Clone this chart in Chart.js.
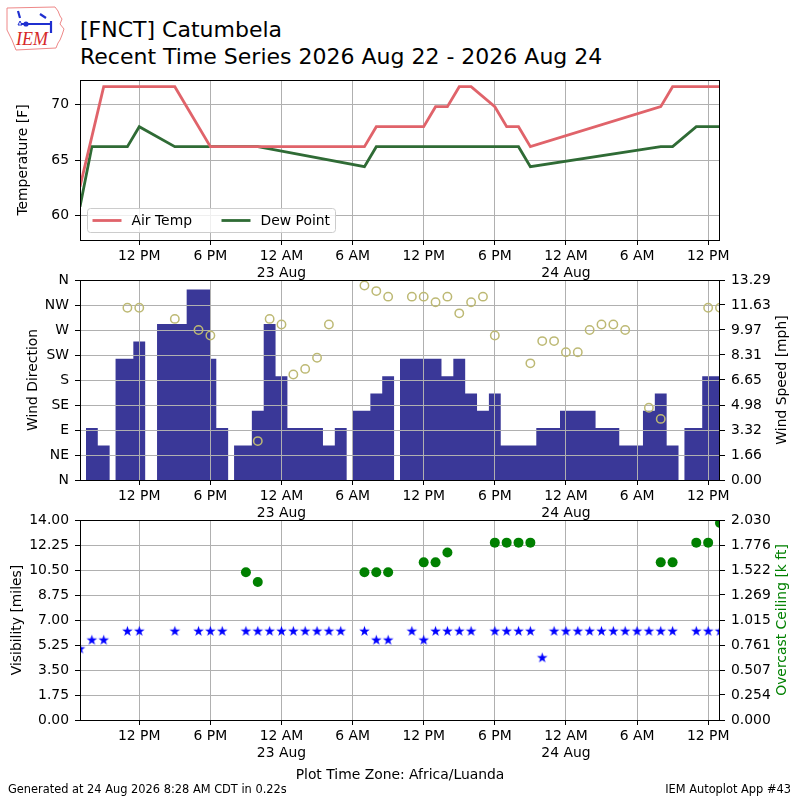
<!DOCTYPE html>
<html>
<head>
<meta charset="utf-8">
<script src="https://cdn.jsdelivr.net/npm/chart.js@4.4.1/dist/chart.umd.min.js"></script>
<style>
  body { margin: 0; background: #fff; font-family: "DejaVu Sans", sans-serif; }
  #page { position: relative; width: 800px; height: 800px; overflow: hidden; background: #fff; }
  .panel { position: absolute; left: 0; }
  #title { position: absolute; left: 80px; top: 17px; font-size: 22px; line-height: 26.6px; white-space: nowrap; color: #000; }
  #tz { position: absolute; left: 0; width: 800px; top: 766px; text-align: center; font-size: 13.9px; color: #000; }
  #gen { position: absolute; left: 8px; top: 782px; font-size: 11.4px; color: #000; }
  #app { position: absolute; right: 9px; top: 782px; font-size: 11.4px; color: #000; }
  #logo { position: absolute; left: 0; top: 0; }
</style>
</head>
<body>
<div id="page">
  <svg id="logo" width="75" height="55" viewBox="0 0 75 55">
    <path d="M7,8 L55,7 L58,11 L60,16 L62,19 L60,24 L64,29 L62,35 L60,40 L58,43 L56,48 L16,50 L12,40 L7,30 Z" fill="none" stroke="#ee8888" stroke-width="1"/>
    <path d="M21,24 L52,24 M18,11 L20,18 M40,14 L46,18 M51,21 L51,33" stroke="#1f2fd0" stroke-width="2.2" fill="none"/>
    <circle cx="26" cy="24" r="2.6" fill="#1f2fd0"/>
    <path d="M18,25 L20,21 L22,25 Z" fill="none" stroke="#1f2fd0" stroke-width="1"/>
    <text x="16" y="45" font-family="Liberation Serif, serif" font-style="italic" font-size="18" fill="#d62828">IEM</text>
  </svg>
  <div id="title">[FNCT] Catumbela<br>Recent Time Series 2026 Aug 22 - 2026 Aug 24</div>
  <div class="panel" style="top:70px"><canvas id="tempChart" width="800" height="215"></canvas></div>
  <div class="panel" style="top:270px"><canvas id="windChart" width="800" height="255"></canvas></div>
  <div class="panel" style="top:510px"><canvas id="visChart" width="800" height="255"></canvas></div>
  <div id="tz">Plot Time Zone: Africa/Luanda</div>
  <div id="gen">Generated at 24 Aug 2026 8:28 AM CDT in 0.22s</div>
  <div id="app">IEM Autoplot App #43</div>
</div>
<script>
// hours since 2026-08-22 00:00 local time
const obsHours = [7, 8, 9, 10, 11, 12, 13, 14, 15, 16,
  17, 18, 19, 20, 21, 22, 23, 24, 25, 26,
  27, 28, 29, 30, 31, 32, 33, 34, 35, 36,
  37, 38, 39, 40, 41, 42, 43, 44, 45, 46,
  47, 48, 49, 50, 51, 52, 53, 54, 55, 56,
  57, 58, 59, 60, 61];

const airTemp = [62.6, null, 71.6, null, 71.6, 71.6, null, null, 71.6, null,
  null, 66.2, 66.2, null, 66.2, 66.2, 66.2, 66.2, 66.2, 66.2,
  66.2, 66.2, 66.2, null, 66.2, 68.0, 68.0, null, 68.0, 68.0,
  69.8, 69.8, 71.6, 71.6, null, 69.8, 68.0, 68.0, 66.2, null,
  null, null, null, null, null, null, null, null, null, 69.8,
  71.6, null, 71.6, 71.6, 71.6];

const dewPoint = [60.8, 66.2, 66.2, null, 66.2, 68.0, null, null, 66.2, null,
  66.2, 66.2, 66.2, null, 66.2, 66.2, null, null, null, null,
  null, null, null, null, 64.4, 66.2, 66.2, null, 66.2, 66.2,
  66.2, 66.2, 66.2, 66.2, null, 66.2, 66.2, 66.2, 64.4, null,
  null, null, null, null, null, null, null, null, null, 66.2,
  66.2, null, 68.0, 68.0, 68.0];

const windDir = [null, null, null, null, 310, 310, null, null, 290, null,
  270, 260, null, null, null, 70, 290, 280, 190, 200,
  220, 280, null, null, 350, 340, 330, null, 330, 330,
  320, 330, 300, 320, 330, 260, null, null, 210, 250,
  250, 230, 230, 270, 280, 280, 270, null, 130, 110,
  null, null, null, 310, 310];

// wind speed bins: speed [mph] holds from each start hour to the next
const windBinStart = [7.5, 8.5, 9.5, 10, 11.5, 12.5, 13.5, 16, 18, 18.5,
  19.5, 20, 21.5, 22.5, 23.5, 24.5, 27.5, 28.5, 29.5, 30,
  31.5, 32.5, 33.5, 34, 37.5, 38.5, 39.5, 40.5, 41.5, 42.5,
  45.5, 47.5, 50.5, 52.5, 54.5, 55.5, 56.5, 57.5, 58, 59.5, 61];
const windSpeed = [3.45, 2.30, 0, 8.06, 9.21, 0, 10.36, 12.66, 8.06, 3.45,
  0, 2.30, 4.60, 10.36, 6.90, 3.45, 2.30, 3.45, 0, 4.60,
  5.75, 6.90, 0, 8.06, 6.90, 8.06, 5.75, 4.60, 5.75, 2.30,
  3.45, 4.60, 3.45, 2.30, 4.60, 5.75, 2.30, 0, 3.45, 6.90, 6.90];

const visibility = [4.97, 5.59, 5.59, null, 6.21, 6.21, null, null, 6.21, null,
  6.21, 6.21, 6.21, null, 6.21, 6.21, 6.21, 6.21, 6.21, 6.21,
  6.21, 6.21, 6.21, null, 6.21, 5.59, 5.59, null, 6.21, 5.59,
  6.21, 6.21, 6.21, 6.21, null, 6.21, 6.21, 6.21, 6.21, 4.35,
  6.21, 6.21, 6.21, 6.21, 6.21, 6.21, 6.21, 6.21, 6.21, 6.21,
  6.21, null, 6.21, 6.21, 6.21];

const ceiling = [null, null, null, null, null, null, null, null, null, null,
  null, null, null, null, 1.5, 1.4, null, null, null, null,
  null, null, null, null, 1.5, 1.5, 1.5, null, null, 1.6,
  1.6, 1.7, null, null, null, 1.8, 1.8, 1.8, 1.8, null,
  null, null, null, null, null, null, null, null, null, 1.6,
  1.6, null, 1.8, 1.8, 2.0];

const xTickHours = [12, 18, 24, 30, 36, 42, 48, 54, 60];
const xTickLabels = ['12 PM', '6 PM', ['12 AM', '23 Aug'], '6 AM', '12 PM', '6 PM', ['12 AM', '24 Aug'], '6 AM', '12 PM'];
const tempTicks = [60, 65, 70];
const dirTicks = [0, 45, 90, 135, 180, 225, 270, 315, 360];
const dirLabels = ['N', 'NE', 'E', 'SE', 'S', 'SW', 'W', 'NW', 'N'];
const speedTickLabels = ['0.00', '1.66', '3.32', '4.98', '6.65', '8.31', '9.97', '11.63', '13.29'];
const visTickLabels = ['0.00', '1.75', '3.50', '5.25', '7.00', '8.75', '10.50', '12.25', '14.00'];
const ceilTickLabels = ['0.000', '0.254', '0.507', '0.761', '1.015', '1.269', '1.522', '1.776', '2.030'];

Chart.defaults.font.family = '"DejaVu Sans", sans-serif';
Chart.defaults.font.size = 13.9;
Chart.defaults.color = '#000';

function pts(ys) {
  const out = [];
  ys.forEach((y, i) => { if (y !== null) out.push({ x: obsHours[i], y: y }); });
  return out;
}

function makeStar(color, r) {
  const size = Math.ceil(r * 2) + 3;
  const c = document.createElement('canvas');
  c.width = size; c.height = size;
  const g = c.getContext('2d');
  g.translate(size / 2, size / 2);
  g.beginPath();
  for (let i = 0; i < 10; i++) {
    const rad = i % 2 === 0 ? r : r * 0.38;
    const ang = -Math.PI / 2 + i * Math.PI / 5;
    g.lineTo(rad * Math.cos(ang), rad * Math.sin(ang));
  }
  g.closePath();
  g.fillStyle = color;
  g.fill();
  return c;
}

const gridOpts = { color: '#b0b0b0', lineWidth: 1, tickColor: '#000', tickLength: 5 };

function xAxis() {
  return {
    type: 'linear', min: 7, max: 61,
    afterBuildTicks: s => { s.ticks = xTickHours.map(v => ({ value: v })); },
    afterFit: s => { s.height = 45; s.paddingLeft = 0; s.paddingRight = 0; },
    grid: gridOpts,
    border: { display: false },
    ticks: { padding: 3, maxRotation: 0, autoSkip: false, callback: (v, i) => xTickLabels[i] }
  };
}

function yAxis(pos, min, max, values, labels, onChart) {
  return {
    type: 'linear', position: pos, min: min, max: max,
    afterBuildTicks: s => { s.ticks = values.map(v => ({ value: v })); },
    afterFit: s => { s.width = 80; s.paddingTop = 0; s.paddingBottom = 0; },
    grid: Object.assign({}, gridOpts, { drawOnChartArea: onChart }),
    border: { display: false },
    ticks: { padding: 6, autoSkip: false, callback: (v, i) => labels[i] }
  };
}

const framePlugin = {
  id: 'frame',
  afterDatasetsDraw(chart) {
    const a = chart.chartArea, ctx = chart.ctx;
    ctx.save();
    ctx.strokeStyle = '#000';
    ctx.lineWidth = 1;
    ctx.strokeRect(a.left + 0.5, a.top + 0.5, a.right - a.left - 1, a.bottom - a.top);
    ctx.restore();
  }
};

const sideTitles = {
  id: 'sideTitles',
  afterDraw(chart, args, opts) {
    const a = chart.chartArea, ctx = chart.ctx;
    const cy = (a.top + a.bottom) / 2;
    (opts.items || []).forEach(t => {
      ctx.save();
      ctx.translate(t.x, cy);
      ctx.rotate(-Math.PI / 2);
      ctx.font = '13.9px "DejaVu Sans"';
      ctx.fillStyle = t.color || '#000';
      ctx.textAlign = 'center';
      ctx.textBaseline = 'middle';
      ctx.fillText(t.text, 0, 0);
      ctx.restore();
    });
  }
};

const gridOnTop = {
  id: 'gridOnTop',
  afterDatasetDraw(chart, args, opts) {
    if (!opts.enabled || args.index !== opts.after) return;
    chart.scales.x.drawGrid(chart.chartArea);
    chart.scales.yDir.drawGrid(chart.chartArea);
  }
};

const boxLegend = {
  id: 'boxLegend',
  afterDraw(chart, args, opts) {
    if (!opts.show) return;
    const a = chart.chartArea, ctx = chart.ctx;
    const x0 = a.left + 7.5, y0 = a.bottom - 32, w = 248, h = 24;
    ctx.save();
    ctx.beginPath();
    ctx.roundRect(x0, y0 + 0.5, w, h, 3);
    ctx.fillStyle = 'rgba(255,255,255,0.8)';
    ctx.fill();
    ctx.strokeStyle = '#cccccc';
    ctx.lineWidth = 1;
    ctx.stroke();
    chart.data.datasets.forEach((ds, i) => {
      const lx = x0 + 5 + i * 129, cy = y0 + h / 2 + 0.5;
      ctx.strokeStyle = ds.borderColor;
      ctx.lineWidth = ds.borderWidth;
      ctx.beginPath();
      ctx.moveTo(lx, cy);
      ctx.lineTo(lx + 29, cy);
      ctx.stroke();
      ctx.fillStyle = '#000';
      ctx.font = '13.9px "DejaVu Sans"';
      ctx.textBaseline = 'middle';
      ctx.fillText(ds.label, lx + 39, cy + 1);
    });
    ctx.restore();
  }
};

Chart.register(framePlugin, sideTitles, gridOnTop, boxLegend);

const baseOpts = {
  responsive: false,
  animation: false,
  events: []
};

new Chart(document.getElementById('tempChart'), {
  type: 'line',
  data: {
    datasets: [
      { label: 'Air Temp', data: pts(airTemp), borderColor: '#e0636a', borderWidth: 2.8, pointRadius: 0, tension: 0 },
      { label: 'Dew Point', data: pts(dewPoint), borderColor: '#2f6b35', borderWidth: 2.8, pointRadius: 0, tension: 0 }
    ]
  },
  options: Object.assign({}, baseOpts, {
    layout: { padding: { top: 10, right: 80, left: 0, bottom: 0 } },
    scales: {
      x: xAxis(),
      y: yAxis('left', 57.8, 72.2, tempTicks, tempTicks.map(String), true)
    },
    plugins: {
      legend: { display: false },
      tooltip: { enabled: false },
      boxLegend: { show: true },
      sideTitles: { items: [{ text: 'Temperature [F]', x: 23 }] }
    }
  })
});

new Chart(document.getElementById('windChart'), {
  type: 'scatter',
  data: {
    datasets: [
      {
        type: 'line', label: 'Wind Speed',
        data: windBinStart.map((h, i) => ({ x: h, y: windSpeed[i] })),
        yAxisID: 'ySpd', stepped: 'before', fill: 'origin',
        backgroundColor: '#3a3898', borderColor: 'rgba(0,0,0,0)', borderWidth: 0,
        pointRadius: 0, order: 2
      },
      {
        label: 'Wind Direction', data: pts(windDir), yAxisID: 'yDir',
        pointStyle: 'circle', pointRadius: 4.2, borderWidth: 1.5,
        borderColor: '#bdb974', backgroundColor: 'rgba(0,0,0,0)', clip: 0, order: 1
      }
    ]
  },
  options: Object.assign({}, baseOpts, {
    layout: { padding: { top: 10, right: 0, left: 0, bottom: 0 } },
    scales: {
      x: xAxis(),
      yDir: yAxis('left', 0, 360, dirTicks, dirLabels, true),
      ySpd: yAxis('right', 0, 13.29, speedTickLabels.map(Number), speedTickLabels, false)
    },
    plugins: {
      legend: { display: false },
      tooltip: { enabled: false },
      gridOnTop: { enabled: true, after: 0 },
      sideTitles: { items: [{ text: 'Wind Direction', x: 33 }, { text: 'Wind Speed [mph]', x: 782 }] }
    }
  })
});

new Chart(document.getElementById('visChart'), {
  type: 'scatter',
  data: {
    datasets: [
      {
        label: 'Visibility', data: pts(visibility), yAxisID: 'yVis',
        pointStyle: makeStar('#0000ff', 5.6), pointRadius: 5, clip: 0
      },
      {
        label: 'Overcast Ceiling', data: pts(ceiling), yAxisID: 'yCeil',
        pointStyle: 'circle', pointRadius: 5, borderWidth: 0,
        backgroundColor: '#008000', borderColor: '#008000', clip: 0
      }
    ]
  },
  options: Object.assign({}, baseOpts, {
    layout: { padding: { top: 10, right: 0, left: 0, bottom: 0 } },
    scales: {
      x: xAxis(),
      yVis: yAxis('left', 0, 14, visTickLabels.map(Number), visTickLabels, true),
      yCeil: yAxis('right', 0, 2.03, ceilTickLabels.map(Number), ceilTickLabels, false)
    },
    plugins: {
      legend: { display: false },
      tooltip: { enabled: false },
      sideTitles: { items: [{ text: 'Visibility [miles]', x: 17 }, { text: 'Overcast Ceiling [k ft]', x: 782, color: '#008000' }] }
    }
  })
});
</script>
</body>
</html>
